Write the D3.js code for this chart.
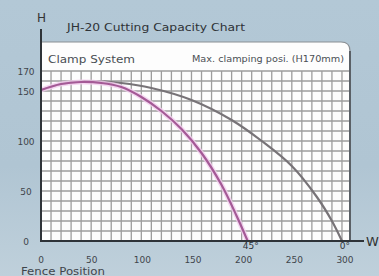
<!DOCTYPE html>
<html><head><meta charset="utf-8">
<script src="https://cdn.jsdelivr.net/npm/d3@7"></script>
<style>html,body{margin:0;padding:0;}svg{display:block;}</style>
</head><body>
<script>
const title = "JH-20 Cutting Capacity Chart";
const headerLeft = "Clamp System";
const headerRight = "Max. clamping posi. (H170mm)";
const xTicks = [0, 50, 100, 150, 200, 250, 300];
const yTicks = [0, 50, 100, 150, 170];
const angleLabels = [{x: 206, t: "45°"}, {x: 300, t: "0°"}];
// 45° curve (pink)
const pinkX = [0, 20, 40, 60, 80, 100, 120, 140, 160, 180, 195, 206];
const pinkY = [151, 157, 159, 158, 154, 144, 130, 112, 88, 56, 25, 0];
// 0° curve (gray)
const grayX = [0, 20, 50, 80, 110, 150, 190, 220, 250, 275, 290, 300];
const grayY = [151, 157, 160, 158, 153, 141, 121, 100, 75, 44, 20, 0];

const W = 379, H = 276;
const svg = d3.select("body").append("svg").attr("width", W).attr("height", H);
const defs = svg.append("defs");
const bg = defs.append("linearGradient").attr("id","bg").attr("x1",0).attr("y1",0).attr("x2",0).attr("y2",1);
bg.append("stop").attr("offset","0%").attr("stop-color","#b3c8d6");
bg.append("stop").attr("offset","60%").attr("stop-color","#b0c5d3");
bg.append("stop").attr("offset","100%").attr("stop-color","#bfd0db");
svg.append("rect").attr("width",W).attr("height",H).attr("fill","url(#bg)");

const x = d3.scaleLinear().domain([0, 308]).range([41, 350]);
const y = d3.scaleLinear().domain([0, 170]).range([241, 71]);

const L = 41, R = 350, T = 42, B = 241, r = 9;
svg.append("path")
  .attr("d", `M${L},${B} L${L},${T} L${R-r},${T} Q${R},${T} ${R},${T+r} L${R},${B} Z`)
  .attr("fill", "#fdfdfd").attr("stroke", "#8a8f94").attr("stroke-width", 1.2);

// grid
const g = svg.append("g");
d3.range(0, 301, 10).forEach(v => {
  g.append("line").attr("x1", x(v)).attr("x2", x(v)).attr("y1", y(170)).attr("y2", y(0))
    .attr("stroke", "#9d9d9d").attr("stroke-width", 1.3);
});
d3.range(0, 171, 10).forEach(v => {
  g.append("line").attr("x1", L).attr("x2", R).attr("y1", y(v)).attr("y2", y(v))
    .attr("stroke", "#9d9d9d").attr("stroke-width", 1.3);
});

svg.append("line").attr("x1", R).attr("x2", R).attr("y1", T + r).attr("y2", B)
  .attr("stroke", "#5a6066").attr("stroke-width", 2);

// curves
const line = d3.line().x(d => x(d[0])).y(d => y(d[1])).curve(d3.curveCatmullRom);
const grayData = grayX.map((v, i) => [v, grayY[i]]);
const pinkData = pinkX.map((v, i) => [v, pinkY[i]]);
svg.append("path").attr("d", line(grayData)).attr("fill", "none")
  .attr("stroke", "#777377").attr("stroke-width", 2.2);
svg.append("path").attr("d", line(pinkData)).attr("fill", "none")
  .attr("stroke", "#f2cdee").attr("stroke-width", 5).attr("opacity", 0.8);
svg.append("path").attr("d", line(pinkData)).attr("fill", "none")
  .attr("stroke", "#a45a96").attr("stroke-width", 2.2);

// axes lines
svg.append("line").attr("x1", L).attr("x2", L).attr("y1", 29).attr("y2", B + 1)
  .attr("stroke", "#2e3338").attr("stroke-width", 2);
svg.append("line").attr("x1", L).attr("x2", 364).attr("y1", B).attr("y2", B)
  .attr("stroke", "#2e3338").attr("stroke-width", 2);

const font = "'DejaVu Sans', sans-serif";
svg.append("text").attr("x", 37).attr("y", 22).text("H")
  .attr("font-family", font).attr("font-size", 12).attr("fill", "#333");
svg.append("text").attr("x", 366).attr("y", 246).text("W")
  .attr("font-family", font).attr("font-size", 13).attr("fill", "#333");
svg.append("text").attr("x", 67).attr("y", 31).text(title)
  .attr("font-family", font).attr("font-size", 10.5).attr("fill", "#2f3337")
  .attr("textLength", 178).attr("lengthAdjust", "spacingAndGlyphs");
svg.append("text").attr("x", 48).attr("y", 63).text(headerLeft)
  .attr("font-family", font).attr("font-size", 10.5).attr("fill", "#4a4f54")
  .attr("textLength", 87).attr("lengthAdjust", "spacingAndGlyphs");
svg.append("text").attr("x", 192).attr("y", 62).text(headerRight)
  .attr("font-family", font).attr("font-size", 9).attr("fill", "#4a4f54")
  .attr("textLength", 152).attr("lengthAdjust", "spacingAndGlyphs");

svg.append("g").selectAll("text").data(yTicks).join("text")
  .attr("x", 26).attr("y", d => y(d) + 3.5).attr("text-anchor", "middle")
  .attr("font-family", font).attr("font-size", 9).attr("fill", "#3f454b")
  .text(d => d);
svg.append("g").selectAll("text").data(xTicks).join("text")
  .attr("x", d => x(d) + d / 100).attr("y", 263).attr("text-anchor", "middle")
  .attr("font-family", font).attr("font-size", 9).attr("fill", "#3f454b")
  .text(d => d);
svg.append("g").selectAll("text").data(angleLabels).join("text")
  .attr("x", d => x(d.x) + 3).attr("y", 249).attr("text-anchor", "middle")
  .attr("font-family", font).attr("font-size", 9).attr("fill", "#2e3338")
  .text(d => d.t);
svg.append("text").attr("x", 21).attr("y", 275).text("Fence Position")
  .attr("font-family", font).attr("font-size", 10).attr("fill", "#3f454b")
  .attr("textLength", 84).attr("lengthAdjust", "spacingAndGlyphs");
</script>
</body></html>
